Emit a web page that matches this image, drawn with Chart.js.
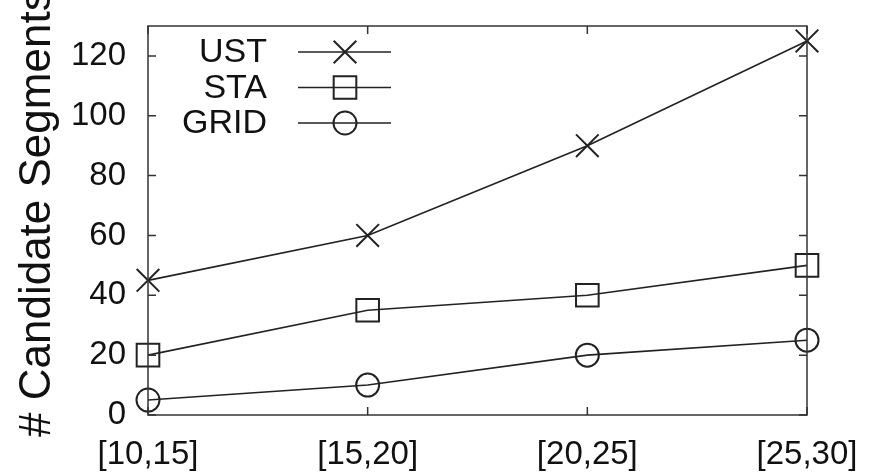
<!DOCTYPE html>
<html>
<head>
<meta charset="utf-8">
<script src="https://cdn.jsdelivr.net/npm/chart.js@4/dist/chart.umd.min.js"></script>
<style>
  html, body { margin: 0; padding: 0; background: #fff; }
  #wrap { width: 877px; height: 472px; }
</style>
</head>
<body>
<div id="wrap"><canvas id="segChart"></canvas></div>
<script>
const categories = ['[10,15]', '[15,20]', '[20,25]', '[25,30]'];
const ustValues = [45, 60, 90, 125];
const staValues = [20, 35, 40, 50];
const gridValues = [5, 10, 20, 25];
const yTicks = [0, 20, 40, 60, 80, 100, 120];
const yTitle = '# Candidate Segments';

const ink = '#222';
const fontFamily = '"Liberation Sans", Arial, Helvetica, sans-serif';

// box around plot + inward ticks on all four sides, legend, y title
const framePlugin = {
  id: 'frame',
  afterDraw(chart) {
    const ctx = chart.ctx;
    const a = chart.chartArea;
    const xs = chart.scales.x, ys = chart.scales.y;
    const tl = 8;
    ctx.save();
    ctx.strokeStyle = '#333';
    ctx.lineWidth = 1.5;
    ctx.strokeRect(a.left, a.top, a.right - a.left, a.bottom - a.top);
    ctx.beginPath();
    xs.ticks.forEach((t, i) => {
      const x = xs.getPixelForTick(i);
      ctx.moveTo(x, a.bottom); ctx.lineTo(x, a.bottom - tl);
      ctx.moveTo(x, a.top); ctx.lineTo(x, a.top + tl);
    });
    ys.ticks.forEach((t, i) => {
      const y = ys.getPixelForValue(t.value);
      ctx.moveTo(a.left, y); ctx.lineTo(a.left + tl, y);
      ctx.moveTo(a.right, y); ctx.lineTo(a.right - tl, y);
    });
    ctx.stroke();

    // legend
    ctx.font = '34px ' + fontFamily;
    ctx.textAlign = 'right';
    ctx.textBaseline = 'middle';
    chart.data.datasets.forEach((ds, i) => {
      const y = a.top + 26 + i * 35.5;
      ctx.fillStyle = '#111';
      ctx.fillText(ds.label, a.left + 119, y + 1);
      ctx.strokeStyle = ink;
      ctx.lineWidth = 1.6;
      ctx.beginPath();
      ctx.moveTo(a.left + 150, y);
      ctx.lineTo(a.left + 243, y);
      ctx.stroke();
      ctx.lineWidth = 2;
      ctx.fillStyle = 'rgba(0,0,0,0)';
      Chart.helpers.drawPoint(ctx, {
        pointStyle: ds.pointStyle, radius: ds.pointRadius, rotation: 0, borderWidth: 2
      }, a.left + 197, y);
    });

    // y axis title (runs past the canvas top like the original)
    ctx.save();
    ctx.translate(50, 437);
    ctx.rotate(-Math.PI / 2);
    ctx.font = '44px ' + fontFamily;
    ctx.fillStyle = '#111';
    ctx.textAlign = 'left';
    ctx.textBaseline = 'alphabetic';
    ctx.fillText(yTitle, 0, 0);
    ctx.restore();
    ctx.restore();
  }
};

function series(label, data, style, radius) {
  return {
    label: label,
    data: data,
    borderColor: ink,
    borderWidth: 1.6,
    pointStyle: style,
    pointRadius: radius,
    pointHoverRadius: radius,
    pointBorderColor: ink,
    pointBackgroundColor: 'rgba(0,0,0,0)',
    pointBorderWidth: 2,
    tension: 0,
    fill: false,
    clip: false
  };
}

new Chart(document.getElementById('segChart'), {
  type: 'line',
  data: {
    labels: categories,
    datasets: [
      series('UST', ustValues, 'crossRot', 16),
      series('STA', staValues, 'rect', 16),
      series('GRID', gridValues, 'circle', 11.5)
    ]
  },
  options: {
    responsive: true,
    maintainAspectRatio: false,
    animation: false,
    layout: { padding: { top: 26, right: 70, left: 0, bottom: 0 } },
    plugins: { legend: { display: false }, tooltip: { enabled: false } },
    scales: {
      x: {
        type: 'category',
        offset: false,
        grid: { display: false, drawTicks: false },
        border: { display: false },
        ticks: {
          color: '#111',
          font: { family: fontFamily, size: 33 },
          padding: 20,
          maxRotation: 0,
          autoSkip: false
        },
        afterFit(scale) {
          scale.height = 57;
          scale.paddingLeft = 0;
          scale.paddingRight = 0;
        }
      },
      y: {
        min: 0,
        max: 130,
        grid: { display: false, drawTicks: false },
        border: { display: false },
        ticks: {
          color: '#111',
          font: { family: fontFamily, size: 33 },
          padding: 22
        },
        afterBuildTicks(scale) { scale.ticks = yTicks.map(v => ({ value: v })); },
        afterFit(scale) {
          scale.width = 148;
          scale.paddingTop = 0;
          scale.paddingBottom = 0;
        }
      }
    }
  },
  plugins: [framePlugin]
});
</script>
</body>
</html>
